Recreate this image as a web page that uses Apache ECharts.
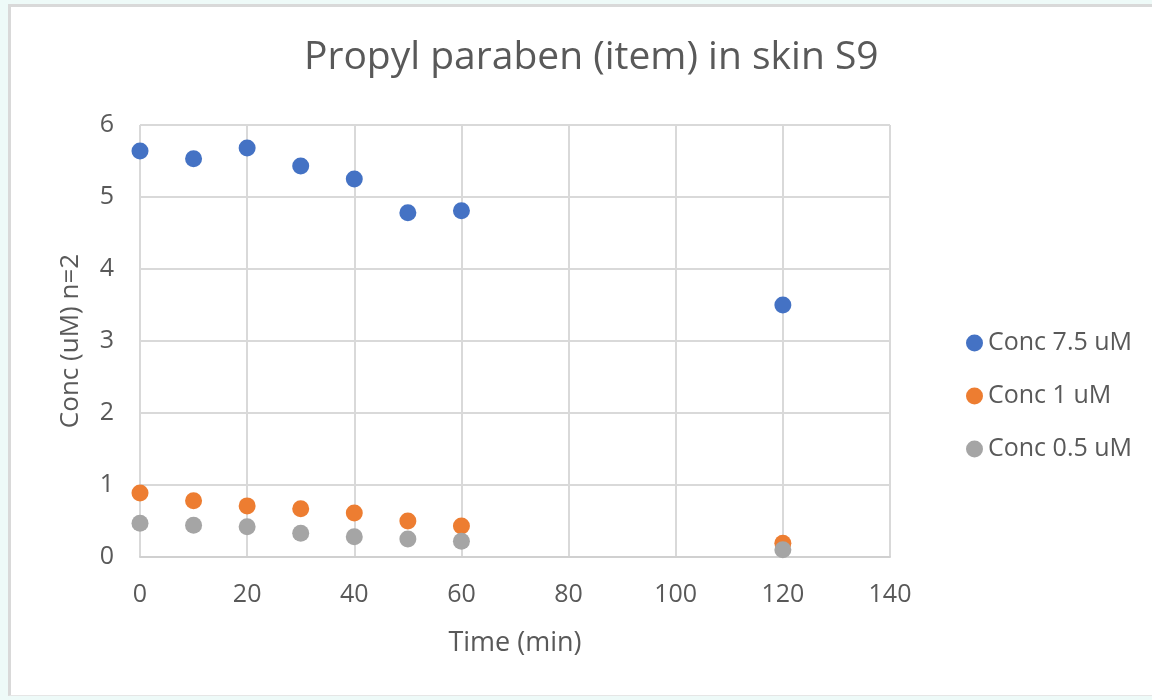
<!DOCTYPE html>
<html>
<head>
<meta charset="utf-8">
<script src="https://cdn.jsdelivr.net/npm/echarts@6/dist/echarts.min.js"></script>
<style>
  html, body { margin: 0; padding: 0; width: 1152px; height: 700px; overflow: hidden; background: #eefaf8; }
  #frame { position: absolute; left: 8px; top: 4px; width: 1144px; height: 692px; background: #ffffff;
           border-left: 3px solid #d9d9d9; border-top: 3px solid #d9d9d9; border-bottom: 1px solid #e6e6e6; box-sizing: border-box; }
  #chart { position: absolute; left: 0; top: 0; width: 1152px; height: 700px; }
</style>
</head>
<body>
<div id="frame"></div>
<div id="chart"></div>
<script>
const times = [0, 10, 20, 30, 40, 50, 60, 120];
const seriesNames = ['Conc 7.5 uM', 'Conc 1 uM', 'Conc 0.5 uM'];
const conc75 = [5.64, 5.53, 5.68, 5.43, 5.25, 4.78, 4.81, 3.50];
const conc1 = [0.89, 0.78, 0.71, 0.67, 0.61, 0.50, 0.43, 0.19];
const conc05 = [0.47, 0.44, 0.42, 0.33, 0.28, 0.25, 0.22, 0.10];
const colors = ['#4472c4', '#ed7d31', '#a5a5a5'];
const xTicks = [0, 20, 40, 60, 80, 100, 120, 140];
const yTicks = [0, 1, 2, 3, 4, 5, 6];

const pairs = v => times.map((t, i) => [t, v[i]]);
const allSeries = [conc75, conc1, conc05];

const font = '"Open Sans", "Segoe UI", sans-serif';
const chart = echarts.init(document.getElementById('chart'), null, { renderer: 'canvas' });
chart.setOption({
  backgroundColor: 'transparent',
  animation: false,
  title: {
    text: 'Propyl paraben (item) in skin S9',
    left: 299,
    top: 33,
    textStyle: { fontFamily: font, fontSize: 39, fontWeight: 'normal', color: '#595959' }
  },
  grid: { left: 140, top: 125, width: 750, height: 432, containLabel: false },
  legend: {
    orient: 'vertical',
    left: 961,
    top: 324,
    itemWidth: 17,
    itemHeight: 17,
    itemGap: 25,
    icon: 'circle',
    textStyle: { fontFamily: font, fontSize: 25, color: '#595959', lineHeight: 28 },
    data: seriesNames
  },
  xAxis: {
    type: 'value',
    min: xTicks[0],
    max: xTicks[xTicks.length - 1],
    interval: 20,
    name: 'Time (min)',
    nameLocation: 'middle',
    nameGap: 73,
    nameTextStyle: { fontFamily: font, fontSize: 27, color: '#595959' },
    axisLine: { show: true, lineStyle: { color: '#d0d0d0', width: 2 } },
    axisTick: { show: false },
    axisLabel: { fontFamily: font, fontSize: 25, color: '#595959', margin: 25 },
    splitLine: { show: true, lineStyle: { color: '#d9d9d9', width: 2 } }
  },
  yAxis: {
    type: 'value',
    min: yTicks[0],
    max: yTicks[yTicks.length - 1],
    interval: 1,
    name: 'Conc (uM) n=2',
    nameLocation: 'middle',
    nameGap: 56,
    nameTextStyle: { fontFamily: font, fontSize: 26, color: '#595959' },
    axisLine: { show: false },
    axisTick: { show: false },
    axisLabel: { fontFamily: font, fontSize: 25, color: '#595959', margin: 26 },
    splitLine: { show: true, lineStyle: { color: '#d9d9d9', width: 2 } }
  },
  series: seriesNames.map((n, k) => ({
    name: n,
    type: 'scatter',
    symbol: 'circle',
    symbolSize: 17,
    itemStyle: { color: colors[k], opacity: 1 },
    data: pairs(allSeries[k]),
    z: 2 + k
  }))
});
</script>
</body>
</html>
